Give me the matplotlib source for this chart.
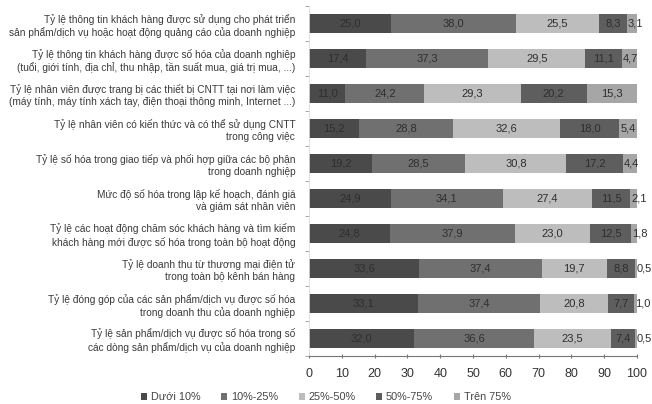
import matplotlib
matplotlib.use("Agg")
import matplotlib.pyplot as plt
import numpy as np

plt.rcParams['font.family'] = ['Liberation Sans', 'DejaVu Sans']

# Row labels (top to bottom as in the picture)
categories = [
    "Tỷ lệ thông tin khách hàng được sử dụng cho phát triển\nsản phẩm/dịch vụ hoặc hoạt động quảng cáo của doanh nghiệp",
    "Tỷ lệ thông tin khách hàng được số hóa của doanh nghiệp\n(tuổi, giới tính, địa chỉ, thu nhập, tần suất mua, giá trị mua, ...)",
    "Tỷ lệ nhân viên được trang bị các thiết bị CNTT tại nơi làm việc\n(máy tính, máy tính xách tay, điện thoại thông minh, Internet ...)",
    "Tỷ lệ nhân viên có kiến thức và có thể sử dụng CNTT\ntrong công việc",
    "Tỷ lệ số hóa trong giao tiếp và phối hợp giữa các bộ phận\ntrong doanh nghiệp",
    "Mức độ số hóa trong lập kế hoạch, đánh giá\nvà giám sát nhân viên",
    "Tỷ lệ các hoạt động chăm sóc khách hàng và tìm kiếm\nkhách hàng mới được số hóa trong toàn bộ hoạt động",
    "Tỷ lệ doanh thu từ thương mại điện tử\ntrong toàn bộ kênh bán hàng",
    "Tỷ lệ đóng góp của các sản phẩm/dịch vụ được số hóa\ntrong doanh thu của doanh nghiệp",
    "Tỷ lệ sản phẩm/dịch vụ được số hóa trong số\ncác dòng sản phẩm/dịch vụ của doanh nghiệp",
]

series_names = ["Dưới 10%", "10%-25%", "25%-50%", "50%-75%", "Trên 75%"]

duoi_10 = [25.0, 17.4, 11.0, 15.2, 19.2, 24.9, 24.8, 33.6, 33.1, 32.0]
tu_10_25 = [38.0, 37.3, 24.2, 28.8, 28.5, 34.1, 37.9, 37.4, 37.4, 36.6]
tu_25_50 = [25.5, 29.5, 29.3, 32.6, 30.8, 27.4, 23.0, 19.7, 20.8, 23.5]
tu_50_75 = [8.3, 11.1, 20.2, 18.0, 17.2, 11.5, 12.5, 8.8, 7.7, 7.4]
tren_75 = [3.1, 4.7, 15.3, 5.4, 4.4, 2.1, 1.8, 0.5, 1.0, 0.5]

colors = ["#4a4a4a", "#707070", "#bdbdbd", "#5e5e5e", "#a6a6a6"]

fig = plt.figure(figsize=(6.52, 4.04), dpi=100)
ax = fig.add_axes([0.474, 0.119, 0.503, 0.866])

y = np.arange(len(categories))
left = np.zeros(len(categories))
for name, vals, c in zip(series_names,
                         [duoi_10, tu_10_25, tu_25_50, tu_50_75, tren_75],
                         colors):
    vals = np.array(vals)
    bars = ax.barh(y, vals, left=left, height=0.55, color=c, label=name)
    for b, v in zip(bars, vals):
        cy = b.get_y() + b.get_height() / 2
        txt = f"{v:.1f}".replace(".", ",")
        if v < 5:
            # tiny segments: label starts at the segment and runs past the bar
            ax.text(b.get_x() + 0.3, cy, txt, ha="left", va="center",
                    fontsize=8, color="#2e2e2e", clip_on=False)
        else:
            ax.text(b.get_x() + b.get_width() / 2, cy, txt, ha="center",
                    va="center", fontsize=8, color="#2e2e2e", clip_on=False)
    left += vals

ax.set_xlim(0, 100)
ax.set_ylim(len(categories) - 0.5, -0.5)
ax.set_xticks(np.arange(0, 101, 10))
ax.set_yticks(y)
ax.set_yticklabels(categories, fontsize=7.3, color="#3a3a3a", linespacing=1.3)
ax.set_yticks(np.arange(-0.5, len(categories), 1), minor=True)
ax.tick_params(axis="y", which="major", length=0, pad=10)
ax.tick_params(axis="y", which="minor", length=3, color="#999999", direction="out")
ax.tick_params(axis="x", labelsize=9, colors="#333333", length=3, direction="inout",
               pad=7)
ax.tick_params(axis="x", color="#777777")

for s in ["top", "right"]:
    ax.spines[s].set_visible(False)
ax.spines["left"].set_color("#dddddd")
ax.spines["left"].set_linewidth(0.6)
ax.spines["bottom"].set_color("#777777")
ax.spines["bottom"].set_linewidth(0.8)

fig.legend(loc="lower center", bbox_to_anchor=(0.5, -0.02), ncol=5, frameon=False,
           fontsize=7.8, handlelength=0.55, handleheight=0.55, handletextpad=0.35,
           columnspacing=1.9, labelcolor="#444444")

fig.savefig("out.png", dpi=100)
